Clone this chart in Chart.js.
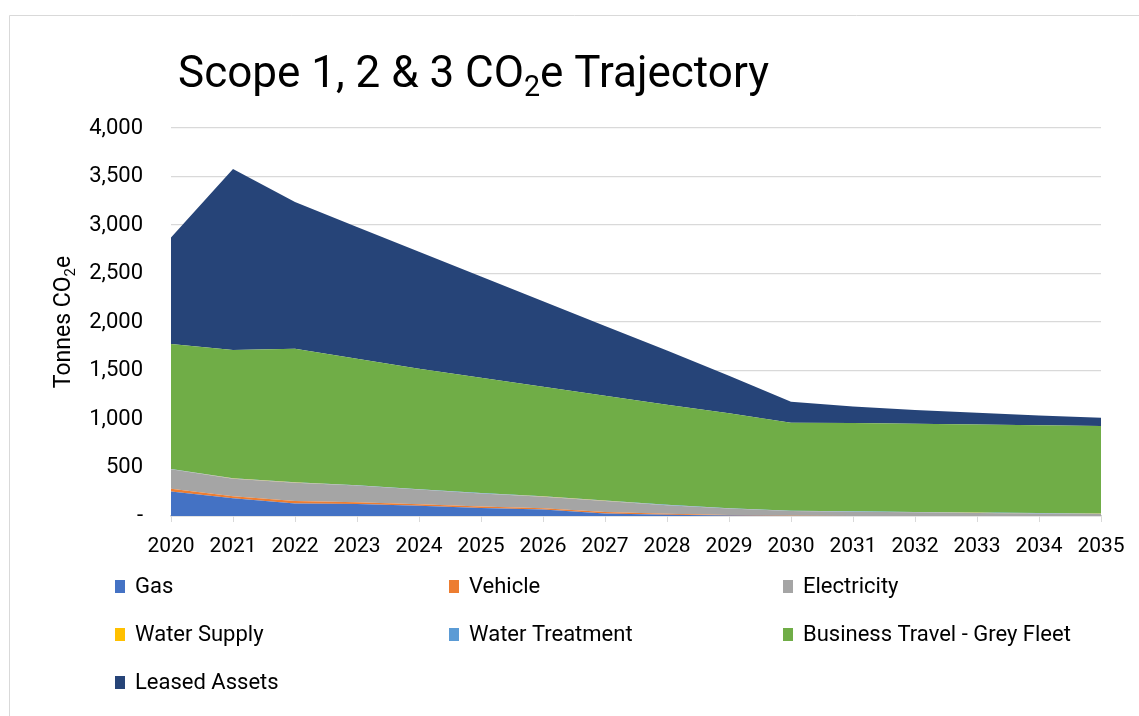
<!DOCTYPE html>
<html>
<head>
<meta charset="utf-8">
<script src="https://cdn.jsdelivr.net/npm/chart.js@4.4.1/dist/chart.umd.min.js"></script>
<style>
  html, body { margin: 0; padding: 0; background: #fff; }
  #wrap { position: relative; width: 1139px; height: 716px; }
</style>
</head>
<body>
<div id="wrap"><canvas id="co2Chart" width="1139" height="716"></canvas></div>
<script>
// years on the x axis
const years = ['2020', '2021', '2022', '2023', '2024', '2025', '2026', '2027',
  '2028', '2029', '2030', '2031', '2032', '2033', '2034', '2035'];

// tonnes CO2e per source
const gas = [252, 184, 130, 123, 105, 82, 66, 25, 12, 4, 0, 0, 0, 0, 0, 0];
const vehicle = [30, 20, 24, 18, 17, 16, 15, 16, 11, 6, 2, 0, 0, 0, 0, 0];
const electricity = [199, 181, 190, 173, 150, 134, 118, 114, 88, 67, 49, 44, 38, 32, 26, 21];
const waterSupply = [1, 1, 1, 1, 1, 1, 1, 1, 1, 1, 1, 1, 1, 1, 1, 1];
const waterTreatment = [3, 3, 3, 3, 3, 3, 3, 3, 3, 3, 3, 3, 3, 3, 3, 3];
const greyFleet = [1288, 1322, 1377, 1302, 1242, 1189, 1130, 1081, 1033, 977, 907, 910, 909, 908, 906, 903];
const leasedAssets = [1097, 1867, 1511, 1360, 1207, 1045, 882, 720, 557, 387, 216, 170, 143, 120, 101, 84];

const seriesNames = ['Gas', 'Vehicle', 'Electricity', 'Water Supply', 'Water Treatment',
  'Business Travel - Grey Fleet', 'Leased Assets'];
const seriesColors = ['#4472C4', '#ED7D31', '#A5A5A5', '#FFC000', '#5B9BD5', '#70AD47', '#264478'];
const seriesData = [gas, vehicle, electricity, waterSupply, waterTreatment, greyFleet, leasedAssets];

const yTicks = [0, 500, 1000, 1500, 2000, 2500, 3000, 3500, 4000];

const FONT = "'Liberation Sans Narrow', 'Arial Narrow', Roboto, sans-serif";

// draws text with a subscript piece
function drawRich(ctx, parts, x, y, size) {
  let cx = x;
  parts.forEach(p => {
    const s = p.sub ? size * 0.65 : size;
    ctx.font = s + 'px ' + FONT;
    ctx.fillText(p.t, cx, p.sub ? y + size * 0.2 : y);
    cx += ctx.measureText(p.t).width;
  });
}
function richWidth(ctx, parts, size) {
  let w = 0;
  parts.forEach(p => {
    ctx.font = (p.sub ? size * 0.65 : size) + 'px ' + FONT;
    w += ctx.measureText(p.t).width;
  });
  return w;
}

const decorPlugin = {
  id: 'decor',
  beforeDraw(chart) {
    const ctx = chart.ctx;
    ctx.save();
    ctx.fillStyle = '#fff';
    ctx.fillRect(0, 0, chart.width, chart.height);
    ctx.strokeStyle = '#d9d9d9';
    ctx.lineWidth = 1;
    ctx.beginPath();
    ctx.moveTo(9.5, chart.height);
    ctx.lineTo(9.5, 15.5);
    ctx.lineTo(chart.width, 15.5);
    ctx.stroke();
    ctx.restore();
  },
  afterDraw(chart) {
    const ctx = chart.ctx;
    ctx.save();
    ctx.fillStyle = '#000';
    ctx.textBaseline = 'alphabetic';

    // title
    drawRich(ctx, [{ t: 'Scope 1, 2 & 3 CO' }, { t: '2', sub: true }, { t: 'e Trajectory' }], 178, 87, 44);

    // y axis title
    const yParts = [{ t: 'Tonnes CO' }, { t: '2', sub: true }, { t: 'e' }];
    ctx.translate(70, 322);
    ctx.rotate(-Math.PI / 2);
    const w = richWidth(ctx, yParts, 23);
    drawRich(ctx, yParts, -w / 2, 0, 23);
    ctx.setTransform(1, 0, 0, 1, 0, 0);

    // legend, three columns
    const colX = [115, 449, 783];
    const rowY = [587, 635, 683];
    ctx.font = '22px ' + FONT;
    ctx.textBaseline = 'middle';
    chart.data.datasets.forEach((ds, i) => {
      const x = colX[i % 3];
      const y = rowY[Math.floor(i / 3)];
      ctx.fillStyle = ds.backgroundColor;
      ctx.fillRect(x, y - 7, 10, 13);
      ctx.fillStyle = '#000';
      ctx.fillText(ds.label, x + 20, y);
    });
    ctx.restore();
  }
};

const datasets = seriesNames.map((name, i) => ({
  label: name,
  data: seriesData[i],
  backgroundColor: seriesColors[i],
  borderColor: seriesColors[i],
  borderWidth: 0,
  pointRadius: 0,
  pointHoverRadius: 0,
  fill: i === 0 ? 'origin' : '-1',
  tension: 0
}));

new Chart(document.getElementById('co2Chart').getContext('2d'), {
  type: 'line',
  data: { labels: years, datasets: datasets },
  options: {
    responsive: false,
    animation: false,
    devicePixelRatio: 1,
    layout: { padding: { left: 0, top: 128, right: 38, bottom: 155 } },
    plugins: {
      legend: { display: false },
      title: { display: false },
      tooltip: { enabled: false }
    },
    scales: {
      x: {
        offset: false,
        grid: { drawOnChartArea: false, drawTicks: true, tickLength: 6, color: '#d9d9d9' },
        border: { display: true, color: '#d0d0d0', width: 1.5 },
        ticks: { color: '#000', font: { family: FONT, size: 21 }, padding: 12, maxRotation: 0, autoSkip: false },
        afterFit(scale) { scale.height = 45; }
      },
      y: {
        stacked: true,
        min: yTicks[0],
        max: yTicks[yTicks.length - 1],
        afterBuildTicks(scale) { scale.ticks = yTicks.map(v => ({ value: v })); },
        grid: { color: '#d9d9d9', lineWidth: 1.3, drawTicks: false },
        border: { display: false },
        ticks: {
          color: '#000',
          font: { family: FONT, size: 22 },
          padding: 28,
          callback: v => v === 0 ? '-' : v.toLocaleString('en-US')
        },
        afterFit(scale) { scale.width = 171; }
      }
    }
  },
  plugins: [decorPlugin]
});
</script>
</body>
</html>
